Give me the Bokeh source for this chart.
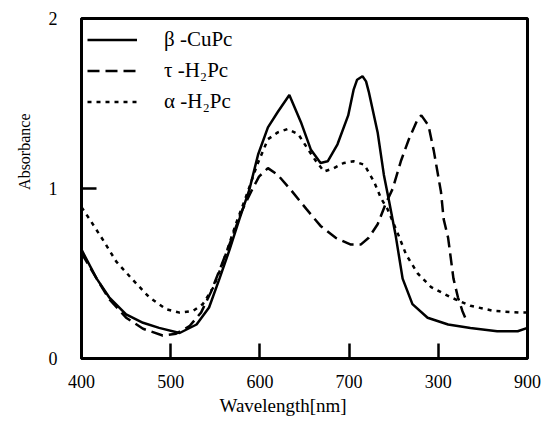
from bokeh.plotting import figure
from bokeh.models import Range1d, FixedTicker, Legend, LegendItem, Title
from bokeh.embed import file_html
from bokeh.resources import INLINE

# --- data ---
beta_nm = [400, 417, 431, 450, 469, 487, 510, 529, 543, 554, 566, 577, 588, 598, 609, 620, 633,
           646, 657, 668, 676, 687, 699, 705, 709, 715, 719, 722, 732, 739, 745, 752, 760, 771,
           788, 811, 836, 866, 889, 900]
beta_abs = [0.64, 0.47, 0.36, 0.26, 0.21, 0.18, 0.15, 0.20, 0.30, 0.46, 0.64, 0.82, 0.99, 1.20,
            1.36, 1.45, 1.55, 1.39, 1.23, 1.15, 1.16, 1.26, 1.43, 1.58, 1.64, 1.66, 1.63, 1.57,
            1.33, 1.08, 0.92, 0.73, 0.47, 0.32, 0.24, 0.20, 0.18, 0.16, 0.16, 0.18]

tau_nm = [400, 417, 431, 450, 469, 491, 506, 521, 534, 545, 557, 568, 579, 590, 599, 609, 620,
          635, 652, 668, 685, 702, 713, 722, 732, 741, 749, 758, 767, 777, 781, 789, 795, 799,
          803, 806, 811, 814, 817, 822, 827, 831]
tau_abs = [0.62, 0.47, 0.35, 0.24, 0.175, 0.135, 0.146, 0.19, 0.27, 0.39, 0.55, 0.70, 0.86, 0.98,
           1.07, 1.12, 1.08, 0.99, 0.88, 0.78, 0.71, 0.67, 0.67, 0.71, 0.79, 0.91, 1.00, 1.16,
           1.29, 1.41, 1.43, 1.37, 1.22, 1.10, 0.98, 0.82, 0.71, 0.59, 0.47, 0.36, 0.28, 0.23]

alpha_nm = [400, 409, 425, 439, 458, 476, 495, 510, 525, 536, 548, 559, 573, 585, 597, 609, 620,
            631, 643, 654, 663, 672, 683, 694, 705, 717, 728, 736, 743, 755, 764, 777, 792, 814,
            836, 862, 892, 900]
alpha_abs = [0.89, 0.82, 0.69, 0.57, 0.46, 0.36, 0.29, 0.27, 0.28, 0.32, 0.42, 0.57, 0.79, 0.96,
             1.14, 1.29, 1.33, 1.35, 1.32, 1.23, 1.16, 1.10, 1.12, 1.15, 1.16, 1.14, 1.04, 0.94,
             0.88, 0.73, 0.61, 0.50, 0.42, 0.36, 0.31, 0.28, 0.27, 0.27]

series_labels = ["\u03b2 -CuPc", "\u03c4 -H\u2082Pc", "\u03b1 -H\u2082Pc"]
x_ticks = [400, 500, 600, 700, 800, 900]
x_tick_labels = {800: "300"}
y_ticks = [0, 1, 2]
x_title = "Wavelength[nm]"
y_title = "Absorbance"

FONT = "Liberation Serif"

p = figure(width=542, height=422, output_backend="svg", toolbar_location=None,
           x_range=Range1d(400, 900), y_range=Range1d(0, 2),
           min_border_left=80, min_border_right=15, min_border_top=18, min_border_bottom=64)

p.xgrid.visible = False
p.ygrid.visible = False
p.outline_line_color = "black"
p.outline_line_width = 3
p.background_fill_color = "white"
p.border_fill_color = "white"

for ax in (p.xaxis[0], p.yaxis[0]):
    ax.axis_line_width = 3
    ax.axis_line_color = "black"
    ax.major_tick_in = 15
    ax.major_tick_out = 0
    ax.major_tick_line_width = 2.5
    ax.minor_tick_line_color = None
    ax.major_label_text_font = FONT
    ax.major_label_text_font_size = "18px"
    ax.major_label_text_color = "black"

p.xaxis.ticker = FixedTicker(ticks=x_ticks)
p.xaxis.major_label_overrides = x_tick_labels
p.xaxis.major_label_standoff = 16
p.yaxis.ticker = FixedTicker(ticks=y_ticks)
p.yaxis.major_label_standoff = 24

r1 = p.line(beta_nm, beta_abs, line_color="black", line_width=2.5)
r2 = p.line(tau_nm, tau_abs, line_color="black", line_width=2.5, line_dash="12 6")
r3 = p.line(alpha_nm, alpha_abs, line_color="black", line_width=2.5, line_dash="4 5")

legend = Legend(items=[LegendItem(label=series_labels[0], renderers=[r1]),
                       LegendItem(label=series_labels[1], renderers=[r2]),
                       LegendItem(label=series_labels[2], renderers=[r3])],
                location="top_left")
legend.border_line_alpha = 0
legend.background_fill_alpha = 0
legend.margin = 0
legend.padding = 6
legend.spacing = 0
legend.glyph_width = 50
legend.glyph_height = 31
legend.label_height = 31
legend.label_standoff = 27
legend.label_text_font = FONT
legend.label_text_font_size = "21px"
legend.label_text_color = "black"
p.add_layout(legend)

xt = Title(text=x_title, align="left", offset=138, standoff=4,
           text_font=FONT, text_font_size="19px", text_font_style="normal",
           text_color="black")
yt = Title(text=y_title, align="right", offset=95, standoff=26,
           text_font=FONT, text_font_size="16px", text_font_style="normal",
           text_color="black")
p.add_layout(xt, "below")
p.add_layout(yt, "left")

open("out.html", "w").write(file_html(p, INLINE))
